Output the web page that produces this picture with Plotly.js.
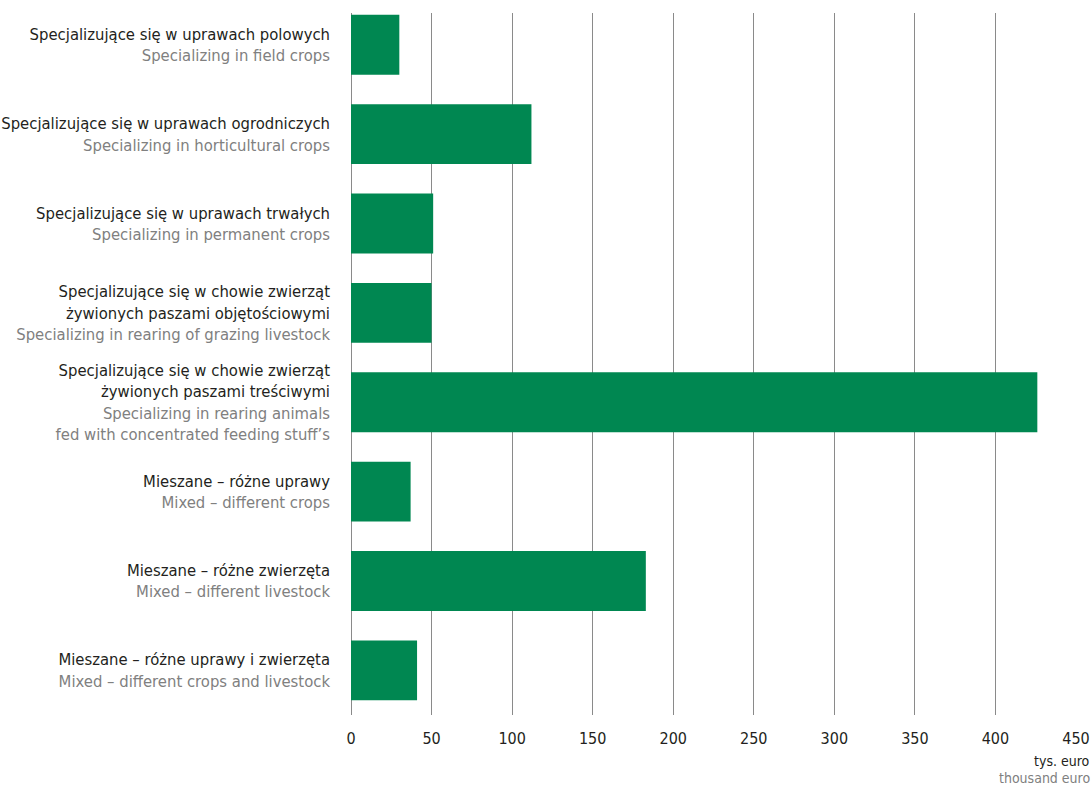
<!DOCTYPE html>
<html>
<head>
<meta charset="utf-8">
<script src="https://cdn.plot.ly/plotly-3.0.1.min.js"></script>
<style>html,body{margin:0;padding:0;background:#fff;}#chart{width:1092px;height:787px;}</style>
</head>
<body>
<div id="chart"></div>
<script>
const categoriesPl = [
  "Specjalizujące się w uprawach polowych",
  "Specjalizujące się w uprawach ogrodniczych",
  "Specjalizujące się w uprawach trwałych",
  "Specjalizujące się w chowie zwierząt<br>żywionych paszami objętościowymi",
  "Specjalizujące się w chowie zwierząt<br>żywionych paszami treściwymi",
  "Mieszane – różne uprawy",
  "Mieszane – różne zwierzęta",
  "Mieszane – różne uprawy i zwierzęta"
];
const categoriesEn = [
  "Specializing in field crops",
  "Specializing in horticultural crops",
  "Specializing in permanent crops",
  "Specializing in rearing of grazing livestock",
  "Specializing in rearing animals<br>fed with concentrated feeding stuff’s",
  "Mixed – different crops",
  "Mixed – different livestock",
  "Mixed – different crops and livestock"
];
const values = [30, 112, 51, 50, 426, 37, 183, 41];
const tickVals = [0, 50, 100, 150, 200, 250, 300, 350, 400, 450];
const unitPl = "tys. euro";
const unitEn = "thousand euro";

const DARK = "#231f20", GREY = "#808080", GREEN = "#008751";
const FONT = "'Liberation Sans Narrow', 'DejaVu Sans Condensed', 'Roboto Condensed', sans-serif";

function splitLines(s, color) {
  return s.split("<br>").map(l => `<span style="color:${color}">${l}</span>`).join("<br>");
}
const idx = categoriesPl.map((_, i) => i);
const labels = idx.map(i => splitLines(categoriesPl[i], DARK) + "<br>" + splitLines(categoriesEn[i], GREY));

const trace = {
  type: "bar",
  orientation: "h",
  x: values,
  y: idx,
  marker: {color: GREEN},
  width: 0.67,
  hoverinfo: "x"
};

const layout = {
  width: 1092, height: 787,
  margin: {l: 351, r: 16, t: 13, b: 72},
  paper_bgcolor: "#fff", plot_bgcolor: "#fff",
  showlegend: false,
  font: {family: FONT, size: 16.5, color: DARK},
  bargap: 0.33,
  xaxis: {
    range: [0, 450],
    tickvals: tickVals,
    ticktext: tickVals.map(String),
    showgrid: true, gridcolor: "#8a8a8a", gridwidth: 1,
    zeroline: true, zerolinecolor: "#8a8a8a", zerolinewidth: 1,
    showline: false,
    ticks: "", ticklabelstandoff: 12,
    tickfont: {family: FONT, size: 16, color: DARK},
    fixedrange: true
  },
  yaxis: {
    range: [7.5, -0.355],
    tickvals: idx,
    ticktext: labels,
    showgrid: false, zeroline: false, showline: false,
    ticks: "", ticklabelstandoff: 20,
    tickfont: {family: FONT, size: 16.5, color: DARK},
    fixedrange: true
  },
  annotations: [
    {xref: "paper", yref: "paper", x: 1.0, y: 0, yshift: -37, xanchor: "right", yanchor: "top",
     text: unitPl, showarrow: false, font: {family: FONT, size: 14, color: DARK}, xshift: 15,
     borderpad: 0},
    {xref: "paper", yref: "paper", x: 1.0, y: 0, yshift: -54, xanchor: "right", yanchor: "top",
     text: unitEn, showarrow: false, font: {family: FONT, size: 14, color: GREY}, xshift: 15,
     borderpad: 0}
  ]
};

Plotly.newPlot("chart", [trace], layout, {displayModeBar: false, staticPlot: true});
</script>
</body>
</html>
